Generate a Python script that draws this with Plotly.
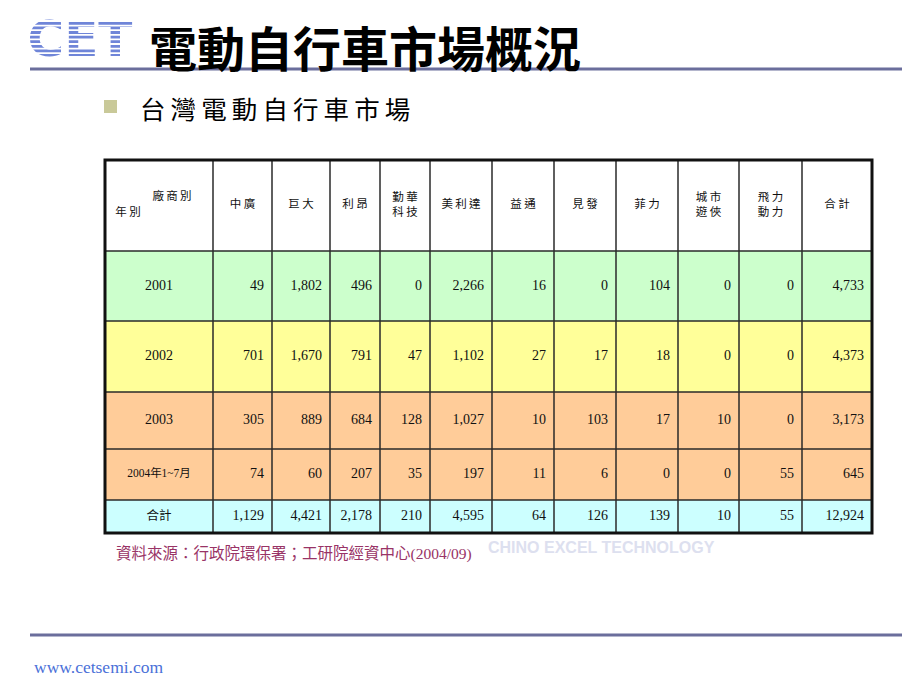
import plotly.graph_objects as go

# ---------------- data ----------------
row_labels = ["2001", "2002", "2003", "2004年1~7月", "合計"]
makers = ["中廣", "巨大", "利昂", "勤華科技", "美利達", "益通", "見發", "菲力", "城市遊俠", "飛力動力", "合計"]
v2001 = [49, 1802, 496, 0, 2266, 16, 0, 104, 0, 0, 4733]
v2002 = [701, 1670, 791, 47, 1102, 27, 17, 18, 0, 0, 4373]
v2003 = [305, 889, 684, 128, 1027, 10, 103, 17, 10, 0, 3173]
v2004 = [74, 60, 207, 35, 197, 11, 6, 0, 0, 55, 645]
vtotal = [1129, 4421, 2178, 210, 4595, 64, 126, 139, 10, 55, 12924]
rows = [v2001, v2002, v2003, v2004, vtotal]

title_text = "電動自行車市場概況"
subtitle_text = "台灣電動自行車市場"
corner_top = "廠商別"
corner_left = "年別"
source_text = "資料來源：行政院環保署；工研院經資中心(2004/09)"
watermark_text = "CHINO EXCEL TECHNOLOGY"
url_text = "www.cetsemi.com"
logo_text = "CET"

# ---------------- geometry / styles ----------------
W, H = 920, 690
col_edges = [105, 213, 272, 330, 380, 430, 492, 554, 616, 678, 739, 802, 872]
row_edges = [160, 251, 321, 392, 449, 500, 533]
row_colors = ["#CCFFCC", "#FFFF99", "#FFCC99", "#FFCC99", "#CCFFFF"]
rule_color = "#6B6E9C"
THIN = "\u2009"

CJK = "Noto Sans CJK TC"
SERIF = "Liberation Serif, " + CJK

fig = go.Figure()

# table body colours
nrow, ncol = len(rows), len(col_edges) - 1
fig.add_trace(go.Heatmap(
    x=col_edges, y=row_edges[1:],
    z=[[i] * ncol for i in range(nrow)],
    zmin=0, zmax=nrow - 1,
    colorscale=[[i / (nrow - 1), c] for i, c in enumerate(row_colors)],
    showscale=False, hoverinfo="skip",
))

def mid(a, b):
    return (a + b) / 2

row_mid = [mid(row_edges[i + 1], row_edges[i + 2]) for i in range(nrow)]

# numbers
nx, ny, nt = [], [], []
for r, vals in enumerate(rows):
    for c, v in enumerate(vals):
        nx.append(col_edges[c + 2] - 8)
        ny.append(row_mid[r])
        nt.append(f"{v:,}")
fig.add_trace(go.Scatter(x=nx, y=ny, text=nt, mode="text", textposition="middle left",
                         textfont=dict(family=SERIF, size=14, color="#111"), hoverinfo="skip"))

# row labels
lab_sizes = [14, 14, 14, 11.5, 12.5]
fig.add_trace(go.Scatter(x=[mid(col_edges[0], col_edges[1])] * nrow, y=row_mid, text=row_labels,
                         mode="text", textposition="middle center",
                         textfont=dict(family=SERIF, size=lab_sizes, color="#111"), hoverinfo="skip"))

# header
def hdr(name):
    sp = lambda s: THIN.join(s)
    if len(name) == 4:
        return sp(name[:2]) + "<br>" + sp(name[2:])
    return sp(name)

hy = mid(row_edges[0], row_edges[1])
fig.add_trace(go.Scatter(x=[mid(col_edges[c + 1], col_edges[c + 2]) for c in range(len(makers))],
                         y=[hy] * len(makers), text=[hdr(m) for m in makers],
                         mode="text", textposition="middle center",
                         textfont=dict(family=CJK, size=11.5, color="#111"), hoverinfo="skip"))
fig.add_trace(go.Scatter(x=[172, 128], y=[hy - 8, hy + 8], text=[hdr(corner_top), hdr(corner_left)],
                         mode="text", textposition="middle center",
                         textfont=dict(family=CJK, size=11.5, color="#111"), hoverinfo="skip"))

# logo
fig.add_trace(go.Scatter(x=[80], y=[43], text=[logo_text], mode="text", textposition="middle center",
                         textfont=dict(family="DejaVu Sans", size=50, color="#6F85D8", weight=700),
                         hoverinfo="skip"))

shapes = []
# logo stripes
y = 21.0
while y < 66:
    shapes.append(dict(type="line", x0=24, x1=138, y0=y, y1=y, xref="x", yref="y",
                       line=dict(color="white", width=1.8), layer="above"))
    y += 4.6

# grid
for xe in col_edges[1:-1]:
    shapes.append(dict(type="line", x0=xe, x1=xe, y0=row_edges[0], y1=row_edges[-1],
                       xref="x", yref="y", line=dict(color="#2a2a2a", width=1.5), layer="above"))
for ye in row_edges[1:-1]:
    shapes.append(dict(type="line", x0=col_edges[0], x1=col_edges[-1], y0=ye, y1=ye,
                       xref="x", yref="y", line=dict(color="#2a2a2a", width=1.5), layer="above"))
shapes.append(dict(type="rect", x0=col_edges[0], x1=col_edges[-1], y0=row_edges[0], y1=row_edges[-1],
                   xref="x", yref="y", line=dict(color="#111", width=3), layer="above"))

# rules
shapes.append(dict(type="line", x0=30, x1=902, y0=69, y1=69, xref="x", yref="y",
                   line=dict(color=rule_color, width=3)))
shapes.append(dict(type="line", x0=30, x1=902, y0=635, y1=635, xref="x", yref="y",
                   line=dict(color=rule_color, width=3)))
# bullet
shapes.append(dict(type="rect", x0=104, x1=117, y0=100, y1=113, xref="x", yref="y",
                   fillcolor="#C9C999", line=dict(width=0)))

annotations = [
    dict(x=147, y=46, text=title_text, xanchor="left", yanchor="middle",
         font=dict(family=CJK, size=48, color="black", weight=700)),
    dict(x=138, y=107, text=THIN.join(subtitle_text), xanchor="left", yanchor="middle",
         font=dict(family=CJK, size=25.5, color="black")),
    dict(x=601, y=547, text=watermark_text, xanchor="center", yanchor="middle",
         font=dict(family="Liberation Sans", size=16, color="#DDE0EF", weight=700)),
    dict(x=114, y=553, text=source_text, xanchor="left", yanchor="middle",
         font=dict(family=SERIF, size=15.5, color="#993366")),
    dict(x=32, y=667, text=url_text, xanchor="left", yanchor="middle",
         font=dict(family="Liberation Serif", size=17.5, color="#4A70D8")),
]
for a in annotations:
    a.update(xref="x", yref="y", showarrow=False)

fig.update_layout(
    width=W, height=H, autosize=False,
    margin=dict(l=0, r=0, t=0, b=0),
    paper_bgcolor="white", plot_bgcolor="white",
    showlegend=False,
    xaxis=dict(range=[0, W], visible=False, fixedrange=True),
    yaxis=dict(range=[H, 0], visible=False, fixedrange=True),
    shapes=shapes, annotations=annotations,
)

fig.write_html("out.html", config={"displayModeBar": False},
               post_script="document.body.style.margin='0';document.body.style.overflow='hidden';")
